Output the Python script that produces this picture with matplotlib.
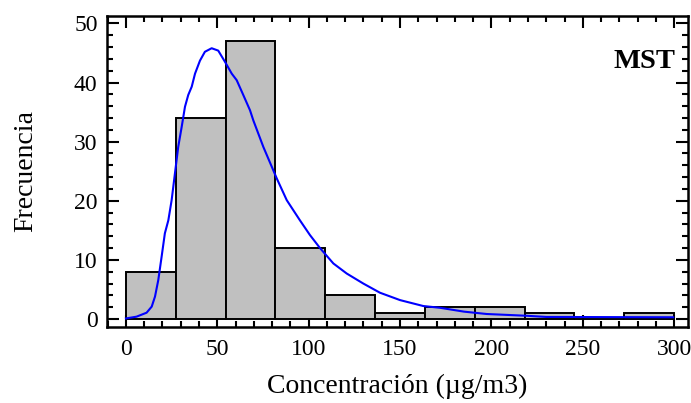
import matplotlib
matplotlib.use("Agg")
import matplotlib.pyplot as plt
from matplotlib.ticker import MultipleLocator

# Histogram data
bin_edges = [0, 27.27, 54.55, 81.82, 109.09, 136.36, 163.64, 190.91, 218.18, 245.45, 272.73, 300]
counts = [8, 34, 47, 12, 4, 1, 2, 2, 1, 0, 1]

# Fitted density curve
curve_x = [0, 5.8, 11.3, 14.1, 15.9, 17.7, 19.5, 21.3, 23.2, 25, 26.8, 28.6, 30.5, 32.3, 34.1,
           36, 37.8, 40.5, 43.2, 46.9, 50.5, 54.2, 57.9, 60.6, 64.2, 67.9, 69.7, 75.2, 82.5,
           88, 95.2, 100.7, 106.2, 113.5, 120.8, 129.9, 139, 150, 162.7, 171.9, 185, 197.4,
           219.3, 230, 299.5]
curve_y = [0.1, 0.4, 1.07, 2.1, 3.8, 6.6, 10.5, 14.5, 16.7, 20.1, 24.6, 29.1, 32.5, 35.9, 37.9,
           39.3, 41.5, 43.7, 45.2, 45.8, 45.4, 43.5, 41.5, 40.4, 37.9, 35.3, 33.6, 29.1, 23.8,
           20.1, 16.7, 14.2, 12.0, 9.4, 7.7, 6.0, 4.45, 3.2, 2.2, 1.9, 1.25, 0.85,
           0.55, 0.35, 0.3]

x_ticks = [0, 50, 100, 150, 200, 250, 300]
y_ticks = [0, 10, 20, 30, 40, 50]

plt.rcParams['font.family'] = ['Liberation Serif', 'DejaVu Serif']

fig = plt.figure(figsize=(6.91, 4.03), dpi=100)
ax = fig.add_axes([0.1553, 0.1893, 0.9957 - 0.1553, 0.961 - 0.1893])

widths = [bin_edges[i + 1] - bin_edges[i] for i in range(len(counts))]
ax.bar(bin_edges[:-1], counts, width=widths, align='edge', color='#c0c0c0',
       edgecolor='black', linewidth=1.4, zorder=2)
ax.plot(curve_x, curve_y, color='#0000ff', linewidth=1.5, zorder=3)

ax.set_xlim(-10.2, 307.6)
ax.set_ylim(-1.3, 51.3)
ax.set_xticks(x_ticks)
ax.set_yticks(y_ticks)
ax.xaxis.set_minor_locator(MultipleLocator(10))
ax.yaxis.set_minor_locator(MultipleLocator(2))
ax.tick_params(which='both', direction='in', top=True, right=True, width=1.5)
ax.tick_params(which='major', length=8.5, labelsize=17, pad=7)
ax.tick_params(axis='x', which='major', pad=9)
ax.tick_params(which='minor', length=4.5)
for sp in ax.spines.values():
    sp.set_linewidth(1.8)

ax.set_xlabel('Concentración (µg/m3)', fontsize=20, labelpad=9.5)
ax.set_ylabel('Frecuencia', fontsize=20, labelpad=26)
ax.text(0.9776, 0.852, 'MST', transform=ax.transAxes, ha='right', va='center',
        fontsize=20.5, fontweight='bold')

fig.savefig('out.png', dpi=100)
